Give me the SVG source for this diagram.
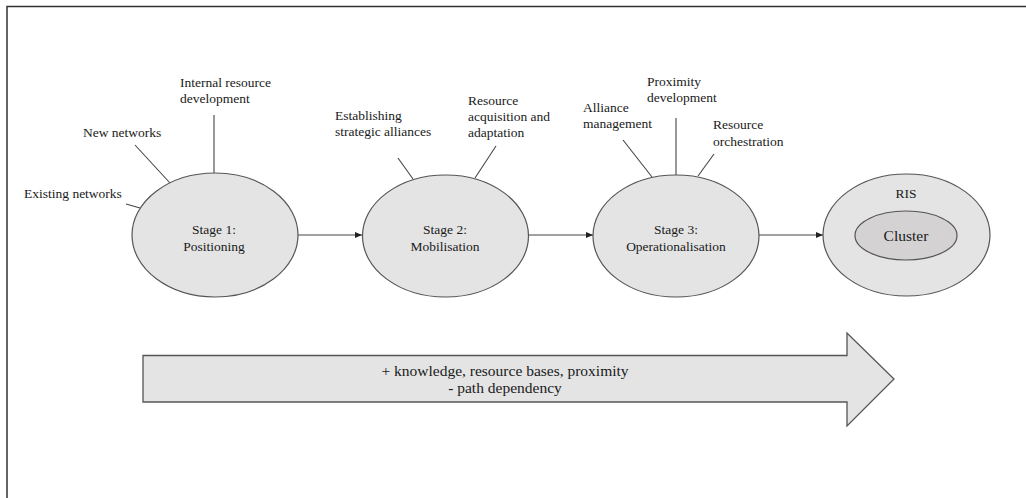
<svg xmlns="http://www.w3.org/2000/svg" width="1026" height="498" viewBox="0 0 1026 498">
<style>
text{font-family:"Liberation Serif","Times New Roman",serif;font-size:13.5px;fill:#1a1a1a}
.c{text-anchor:middle}
.el{fill:#e4e4e4;stroke:#555;stroke-width:1.2}
.ln{stroke:#444;stroke-width:1.1;fill:none}
</style>
<defs>
<marker id="ah" markerWidth="8" markerHeight="8" refX="7" refY="4" orient="auto" markerUnits="userSpaceOnUse">
<path d="M0,1 L7,4 L0,7 Z" fill="#222"/>
</marker>
</defs>
<rect width="1026" height="498" fill="#fff"/>
<path d="M7,498 V6.5 H1026" stroke="#333" stroke-width="1.5" fill="none"/>
<g id="connectors">
<line class="ln" x1="298" y1="235" x2="362" y2="235" marker-end="url(#ah)"/>
<line class="ln" x1="529" y1="235" x2="593" y2="235" marker-end="url(#ah)"/>
<line class="ln" x1="759" y1="235" x2="823" y2="235" marker-end="url(#ah)"/>
<line class="ln" x1="214" y1="115" x2="214" y2="173"/>
<line class="ln" x1="135" y1="145" x2="170" y2="183"/>
<line class="ln" x1="126" y1="204" x2="140" y2="208"/>
<line class="ln" x1="398" y1="158" x2="413" y2="179"/>
<line class="ln" x1="496" y1="146" x2="475" y2="178"/>
<line class="ln" x1="623" y1="140" x2="652" y2="177"/>
<line class="ln" x1="676" y1="118" x2="676" y2="175"/>
<line class="ln" x1="714" y1="154" x2="698" y2="176"/>
</g>
<g id="stage1">
<ellipse class="el" cx="215" cy="235" rx="83" ry="62"/>
<text class="c" x="214" y="234">Stage 1:</text>
<text class="c" x="214" y="251">Positioning</text>
</g>
<g id="stage2">
<ellipse class="el" cx="445.5" cy="236" rx="83" ry="61"/>
<text class="c" x="445" y="234">Stage 2:</text>
<text class="c" x="445" y="251">Mobilisation</text>
</g>
<g id="stage3">
<ellipse class="el" cx="676" cy="236" rx="83" ry="61"/>
<text class="c" x="676" y="234">Stage 3:</text>
<text class="c" x="676" y="251">Operationalisation</text>
</g>
<g id="ris">
<ellipse class="el" cx="906.5" cy="235" rx="83.5" ry="61"/>
<text class="c" x="906" y="198">RIS</text>
<ellipse cx="906" cy="235.5" rx="51" ry="24.5" fill="#d4d2d2" stroke="#555" stroke-width="1.2"/>
<text class="c" x="906" y="241" style="font-size:15.5px">Cluster</text>
</g>
<g id="labels-stage1">
<text x="180" y="87">Internal resource</text>
<text x="180" y="103">development</text>
<text x="83" y="137">New networks</text>
<text x="24" y="198">Existing networks</text>
</g>
<g id="labels-stage2">
<text x="335" y="120">Establishing</text>
<text x="335" y="136">strategic alliances</text>
<text x="468" y="105">Resource</text>
<text x="468" y="121">acquisition and</text>
<text x="468" y="137">adaptation</text>
</g>
<g id="labels-stage3">
<text x="583" y="112">Alliance</text>
<text x="583" y="128">management</text>
<text x="647" y="86">Proximity</text>
<text x="647" y="102">development</text>
<text x="713" y="129">Resource</text>
<text x="713" y="146">orchestration</text>
</g>
<g id="trend-arrow">
<polygon points="143,355.5 847,355.5 847,333 894,379 847,426 847,402 143,402" fill="#e4e4e4" stroke="#555" stroke-width="1.3"/>
<text class="c" x="505" y="376" style="font-size:15.5px">+ knowledge, resource bases, proximity</text>
<text class="c" x="505" y="393" style="font-size:15.5px">- path dependency</text>
</g>
</svg>
